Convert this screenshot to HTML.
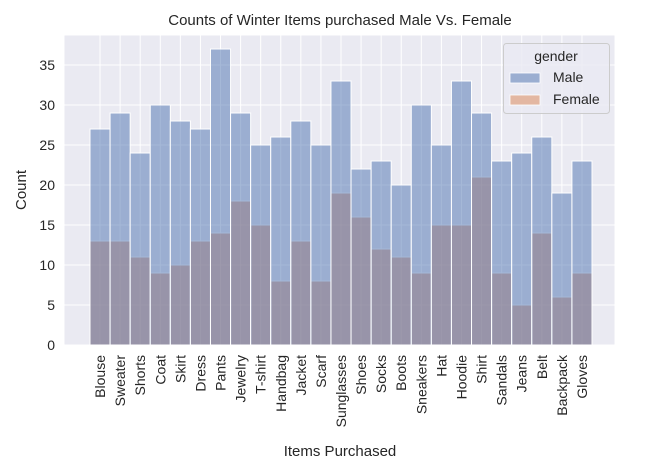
<!DOCTYPE html>
<html><head><meta charset="utf-8"><style>
body{margin:0;background:#fff;}
svg text{font-family:"Liberation Sans","DejaVu Sans",sans-serif;fill:#262626;}
</style></head><body>
<svg id="chart" width="657" height="469" viewBox="0 0 657 469" xmlns="http://www.w3.org/2000/svg">
<rect x="64.5" y="35.5" width="550" height="310" fill="#eaeaf2"/>
<g id="grid"></g>
<g id="bars"></g>
<g id="yticks"></g>
<g id="xticks"></g>
<text x="340" y="25" text-anchor="middle" font-size="15">Counts of Winter Items purchased Male Vs. Female</text>
<text transform="translate(26,190) rotate(-90)" text-anchor="middle" font-size="15">Count</text>
<text x="340" y="456" text-anchor="middle" font-size="15">Items Purchased</text>
<g>
<rect x="503.5" y="43.5" width="106" height="70" rx="3" fill="#eaeaf2" fill-opacity="0.8" stroke="#ccc"/>
<text x="556" y="61" text-anchor="middle" font-size="14">gender</text>
<rect x="510" y="73" width="30" height="10" fill="#9baed1" stroke="#fff" stroke-width="0.8"/>
<text x="553" y="82" font-size="14">Male</text>
<rect x="510" y="95" width="30" height="10" fill="#e3b7a2" stroke="#fff" stroke-width="0.8"/>
<text x="553" y="104" font-size="14">Female</text>
</g>
</svg>
<script>
const categories = ["Blouse","Sweater","Shorts","Coat","Skirt","Dress","Pants","Jewelry","T-shirt","Handbag","Jacket","Scarf","Sunglasses","Shoes","Socks","Boots","Sneakers","Hat","Hoodie","Shirt","Sandals","Jeans","Belt","Backpack","Gloves"];
const maleCounts = [27,29,24,30,28,27,37,29,25,26,28,25,33,22,23,20,30,25,33,29,23,24,26,19,23];
const femaleCounts = [13,13,11,9,10,13,14,18,15,8,13,8,19,16,12,11,9,15,15,21,9,5,14,6,9];
const yTicks = [0,5,10,15,20,25,30,35];

const NS="http://www.w3.org/2000/svg";
const x0=90, bw=20.08, yBase=345, yScale=8;
const xs=i=>x0+i*bw;
const ys=v=>yBase-v*yScale;
function mk(tag,attrs,parent){const e=document.createElementNS(NS,tag);for(const k in attrs)e.setAttribute(k,attrs[k]);document.getElementById(parent).appendChild(e);return e;}

yTicks.forEach(t=>{
  const g=mk('line',{x1:64.5,x2:614.5,y1:ys(t),y2:ys(t),stroke:'#fff','stroke-width':1},'grid');
  
  
  const l=mk('text',{x:55,y:ys(t)+5,'text-anchor':'end','font-size':14},'yticks');
  l.textContent=t;
  
  
});
categories.forEach((c,i)=>{
  const cx=xs(i)+bw/2;
  const g=mk('line',{x1:cx,x2:cx,y1:35.5,y2:345.5,stroke:'#fff','stroke-width':1},'grid');
  
  
  const l=mk('text',{transform:`translate(${cx+5},355) rotate(-90)`,'text-anchor':'end','font-size':14},'xticks');
  l.textContent=c;
  
  
});
categories.forEach((c,i)=>{
  const f=mk('rect',{x:xs(i),y:ys(femaleCounts[i]),width:bw,height:femaleCounts[i]*yScale,fill:'rgba(221,132,82,0.5)',stroke:'#fff','stroke-width':1},'bars');
  
  
});
categories.forEach((c,i)=>{
  const m=mk('rect',{x:xs(i),y:ys(maleCounts[i]),width:bw,height:maleCounts[i]*yScale,fill:'rgba(76,114,176,0.5)',stroke:'#fff','stroke-width':1},'bars');
  
  
});
</script>
</body></html>
